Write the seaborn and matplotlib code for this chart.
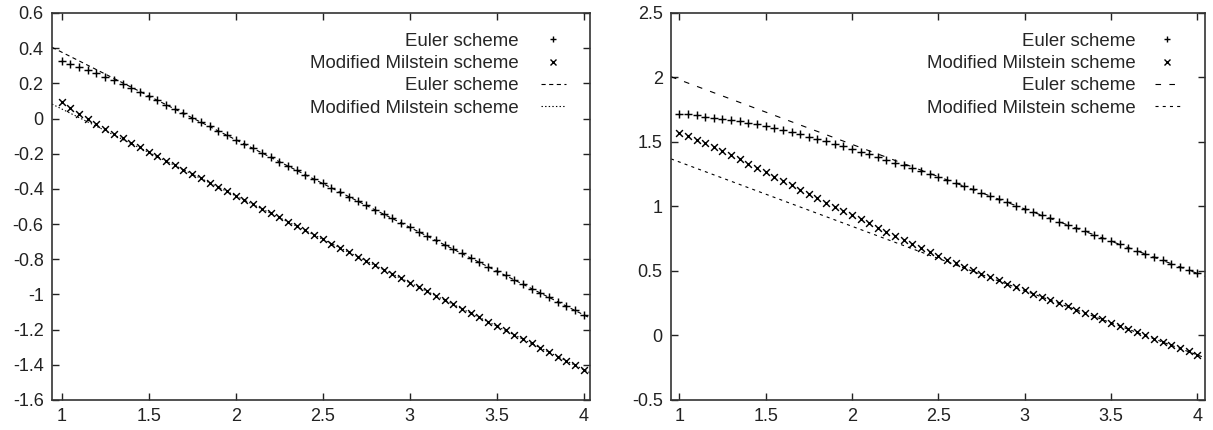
import matplotlib
matplotlib.use("Agg")
import matplotlib.pyplot as plt
from matplotlib.lines import Line2D
import seaborn as sns

# ---------------- data ----------------
x_vals = [1.00, 1.05, 1.10, 1.15, 1.20, 1.25, 1.30, 1.35, 1.40, 1.45,
          1.50, 1.55, 1.60, 1.65, 1.70, 1.75, 1.80, 1.85, 1.90, 1.95,
          2.00, 2.05, 2.10, 2.15, 2.20, 2.25, 2.30, 2.35, 2.40, 2.45,
          2.50, 2.55, 2.60, 2.65, 2.70, 2.75, 2.80, 2.85, 2.90, 2.95,
          3.00, 3.05, 3.10, 3.15, 3.20, 3.25, 3.30, 3.35, 3.40, 3.45,
          3.50, 3.55, 3.60, 3.65, 3.70, 3.75, 3.80, 3.85, 3.90, 3.95,
          4.00]

# left panel, markers
left_euler = [0.327, 0.310, 0.293, 0.275, 0.256, 0.236, 0.217, 0.196, 0.174, 0.151,
              0.128, 0.104, 0.079, 0.054, 0.029, 0.004, -0.020, -0.045, -0.070, -0.095,
              -0.120, -0.145, -0.170, -0.195, -0.220, -0.245, -0.269, -0.294, -0.319, -0.344,
              -0.369, -0.394, -0.419, -0.444, -0.469, -0.494, -0.518, -0.543, -0.568, -0.593,
              -0.618, -0.643, -0.668, -0.693, -0.718, -0.743, -0.767, -0.792, -0.817, -0.842,
              -0.867, -0.892, -0.917, -0.942, -0.967, -0.992, -1.016, -1.041, -1.066, -1.091,
              -1.118]
left_milstein = [0.095, 0.060, 0.028, -0.003, -0.032, -0.060, -0.086, -0.113, -0.139, -0.164,
                 -0.190, -0.215, -0.240, -0.265, -0.291, -0.315, -0.340, -0.365, -0.390, -0.414,
                 -0.439, -0.464, -0.488, -0.513, -0.538, -0.562, -0.587, -0.612, -0.636, -0.661,
                 -0.686, -0.711, -0.735, -0.760, -0.785, -0.809, -0.834, -0.859, -0.883, -0.908,
                 -0.933, -0.957, -0.982, -1.007, -1.032, -1.056, -1.081, -1.106, -1.130, -1.155,
                 -1.180, -1.204, -1.229, -1.254, -1.278, -1.303, -1.328, -1.353, -1.377, -1.402,
                 -1.427]
# left panel, reference lines (end points)
left_line_x = [0.945, 4.035]
left_euler_line = [0.405, -1.134]
left_milstein_line = [0.082, -1.445]

# right panel, markers
right_euler = [1.716, 1.714, 1.706, 1.696, 1.688, 1.680, 1.670, 1.660, 1.649, 1.637,
               1.621, 1.606, 1.590, 1.575, 1.559, 1.541, 1.523, 1.505, 1.485, 1.467,
               1.446, 1.425, 1.405, 1.384, 1.363, 1.340, 1.320, 1.297, 1.273, 1.253,
               1.229, 1.205, 1.181, 1.157, 1.132, 1.107, 1.082, 1.057, 1.032, 1.007,
               0.982, 0.957, 0.932, 0.907, 0.882, 0.857, 0.832, 0.807, 0.782, 0.757,
               0.732, 0.707, 0.682, 0.657, 0.632, 0.607, 0.582, 0.557, 0.532, 0.507,
               0.482]
right_milstein = [1.572, 1.544, 1.515, 1.490, 1.459, 1.430, 1.397, 1.366, 1.333, 1.299,
                  1.266, 1.232, 1.196, 1.163, 1.129, 1.096, 1.062, 1.029, 0.998, 0.962,
                  0.931, 0.905, 0.871, 0.837, 0.804, 0.772, 0.740, 0.709, 0.678, 0.648,
                  0.618, 0.589, 0.561, 0.533, 0.506, 0.480, 0.454, 0.428, 0.402, 0.376,
                  0.351, 0.325, 0.299, 0.274, 0.249, 0.225, 0.200, 0.175, 0.150, 0.125,
                  0.100, 0.075, 0.050, 0.025, 0.000, -0.024, -0.049, -0.074, -0.099, -0.124,
                  -0.149]
right_line_x = [0.952, 4.045]
right_euler_line = [2.006, 0.459]
right_milstein_line = [1.369, -0.173]

x_ticks = [1, 1.5, 2, 2.5, 3, 3.5, 4]
left_yticks = [-1.6, -1.4, -1.2, -1.0, -0.8, -0.6, -0.4, -0.2, 0, 0.2, 0.4, 0.6]
right_yticks = [-0.5, 0, 0.5, 1, 1.5, 2, 2.5]
labels = ["Euler scheme", "Modified Milstein scheme", "Euler scheme", "Modified Milstein scheme"]

# ---------------- style ----------------
sns.set_theme(style="ticks")
plt.rcParams["font.family"] = ["Liberation Sans", "DejaVu Sans"]
plt.rcParams["axes.unicode_minus"] = False
plt.rcParams["lines.scale_dashes"] = False
plt.rcParams["font.size"] = 13

fig = plt.figure(figsize=(12.13, 4.30), dpi=100)
ax1 = fig.add_axes([0.0429, 0.0698, 0.4435, 0.900])
ax2 = fig.add_axes([0.5532, 0.0698, 0.4402, 0.900])

styles = {
    ax1: ((0, (3, 2.5)), (0, (1, 1.6))),
    ax2: ((0, (4, 6)), (0, (2.2, 3))),
}


def draw(ax, xs, e, m, lx, le, lm, yl, yt, e_style, m_style, pad, anchor_x):
    sns.lineplot(x=lx, y=le, ax=ax, color="black", linewidth=0.8,
                 linestyle=e_style, legend=False)
    sns.lineplot(x=lx, y=lm, ax=ax, color="black", linewidth=0.8,
                 linestyle=m_style, legend=False)
    sns.scatterplot(x=xs, y=e, ax=ax, marker="+", color="black", s=34,
                    linewidth=1.05, legend=False)
    sns.scatterplot(x=xs, y=m, ax=ax, marker="x", color="black", s=24,
                    linewidth=1.05, legend=False)
    ax.set_xlim(lx[0], lx[1])
    ax.set_ylim(yl)
    ax.set_xticks(x_ticks)
    ax.set_xticklabels([f"{v:g}" for v in x_ticks])
    ax.set_yticks(yt)
    ax.set_yticklabels([f"{v:g}" for v in yt])
    ax.tick_params(direction="in", top=True, right=True, length=5, width=1,
                   labelsize=13, colors="#222222", pad=6)
    for sp in ax.spines.values():
        sp.set_visible(True)
        sp.set_color("#333333")
        sp.set_linewidth(1.2)
    ax.set_xlabel("")
    ax.set_ylabel("")
    handles = [
        Line2D([], [], marker="+", linestyle="none", color="black", markersize=5, mew=1.0),
        Line2D([], [], marker="x", linestyle="none", color="black", markersize=4, mew=1.0),
        Line2D([], [], linestyle=e_style, color="black", linewidth=0.8),
        Line2D([], [], linestyle=m_style, color="black", linewidth=0.8),
    ]
    ax.legend(handles=handles, labels=labels, loc="upper right",
              bbox_to_anchor=(anchor_x, 1.0), frameon=False, markerfirst=False,
              fontsize=13.4, handlelength=1.35, handletextpad=pad,
              labelspacing=0.28, borderaxespad=0.0, borderpad=1.07)


draw(ax1, x_vals, left_euler, left_milstein, left_line_x, left_euler_line,
     left_milstein_line, (-1.6, 0.6), left_yticks, styles[ax1][0], styles[ax1][1], 1.2, 0.992)
draw(ax2, x_vals, right_euler, right_milstein, right_line_x, right_euler_line,
     right_milstein_line, (-0.5, 2.5), right_yticks, styles[ax2][0], styles[ax2][1], 1.0, 0.990)

fig.savefig("out.png", dpi=100)
